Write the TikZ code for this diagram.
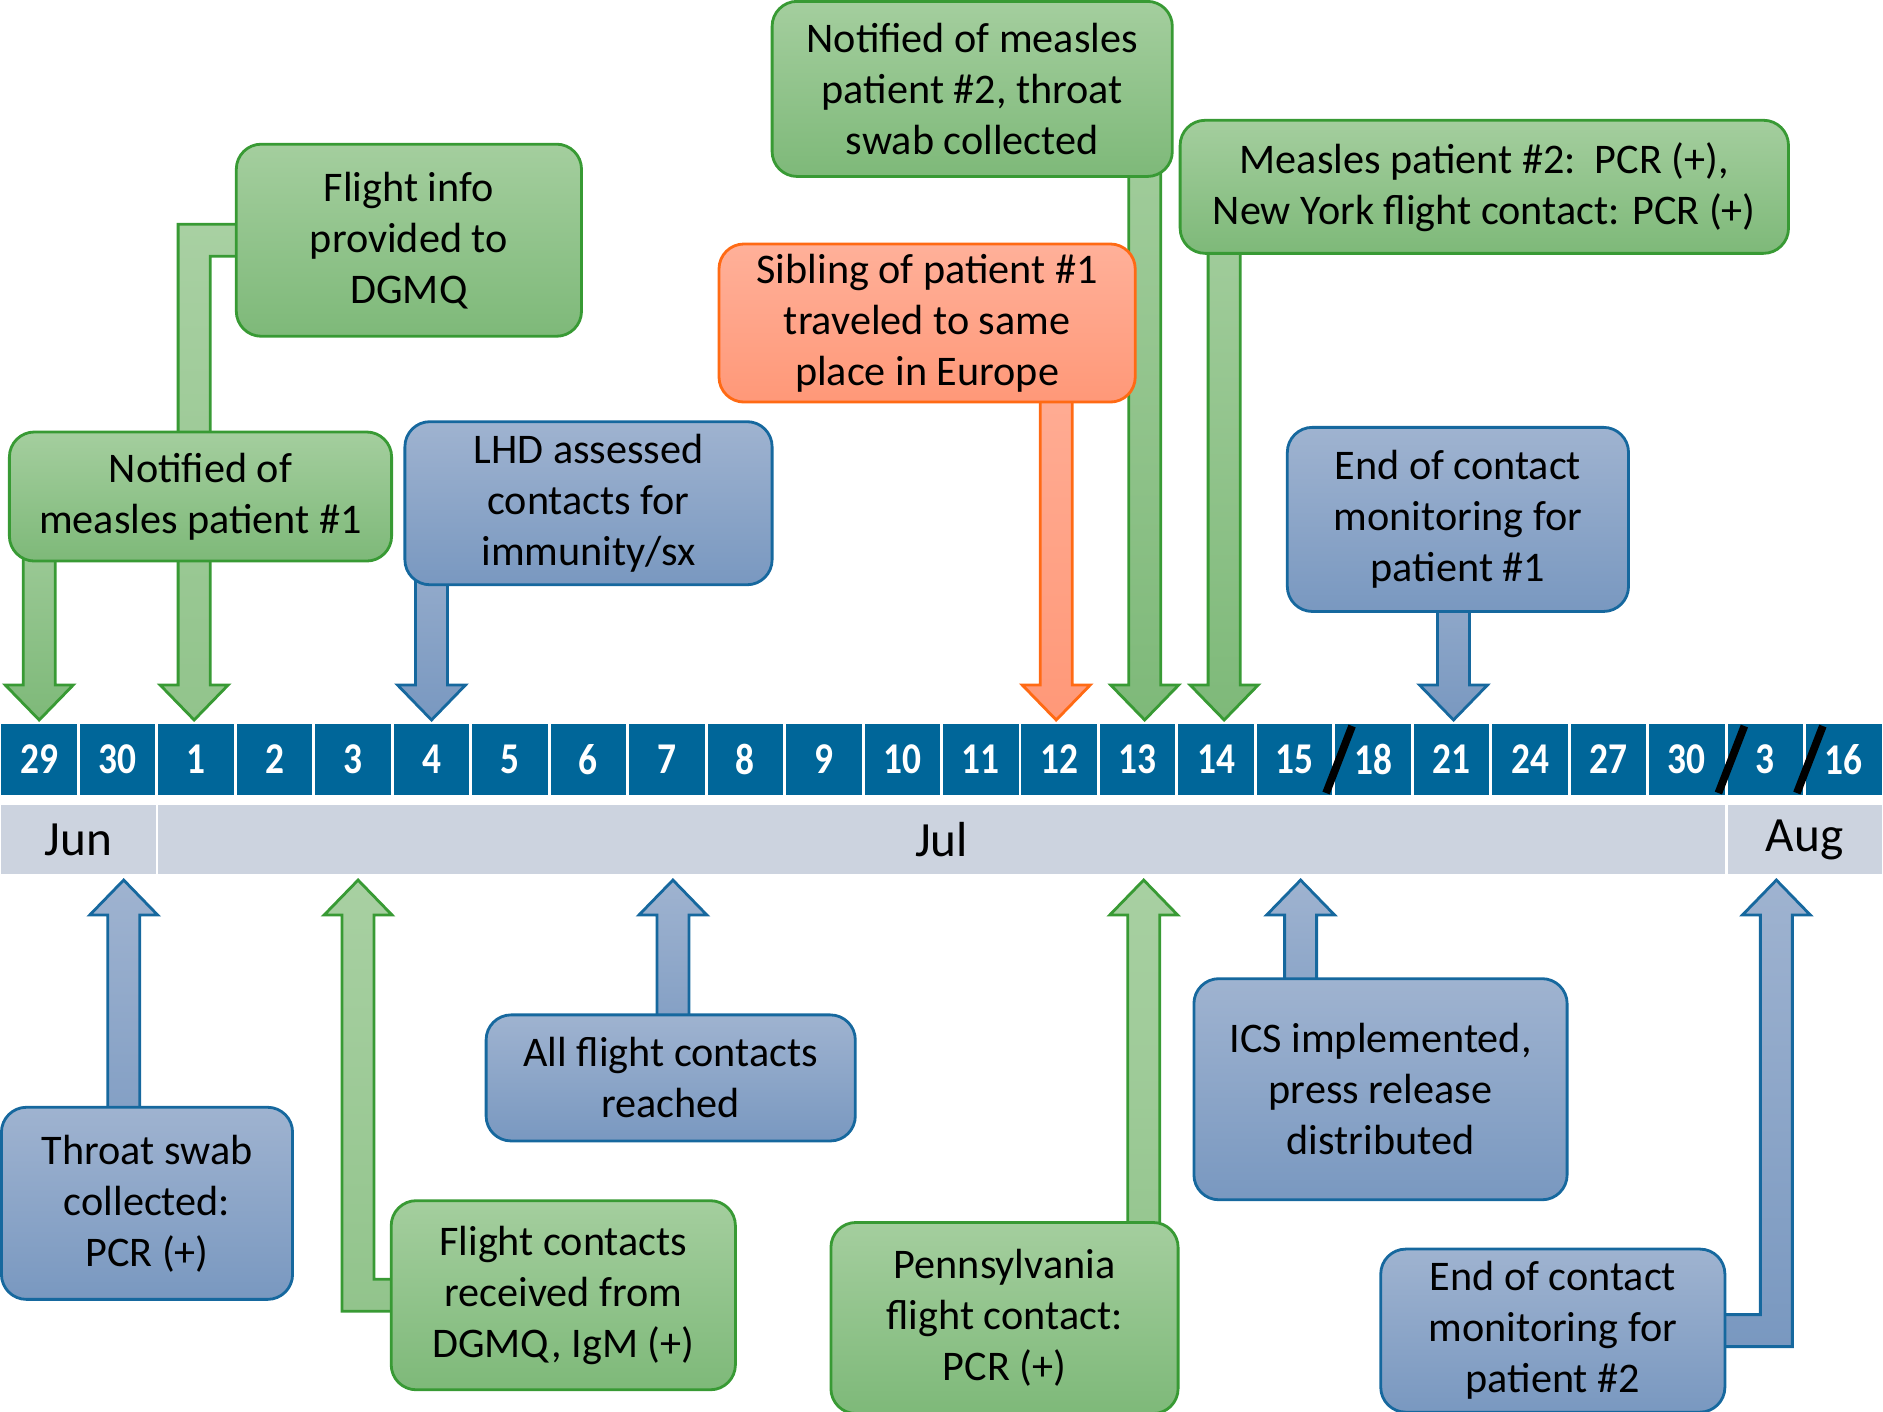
\documentclass[tikz,border=0pt]{standalone}
\usepackage{fontspec}
\setmainfont{Carlito}
\usetikzlibrary{calc}
\pgfdeclarelayer{back}
\pgfsetlayers{back,main}

\definecolor{barblue}{RGB}{0,102,153}
\definecolor{bandgray}{RGB}{204,211,223}
\definecolor{grtop}{RGB}{164,206,158}
\definecolor{grbot}{RGB}{126,185,121}
\definecolor{grtopb}{RGB}{168,208,162}
\definecolor{grbotb}{RGB}{146,196,140}
\definecolor{grline}{RGB}{56,154,52}
\definecolor{bltop}{RGB}{159,179,208}
\definecolor{blbot}{RGB}{121,152,192}
\definecolor{blline}{RGB}{22,104,158}
\definecolor{ortop}{RGB}{255,176,153}
\definecolor{orbot}{RGB}{255,152,120}
\definecolor{orline}{RGB}{255,106,20}

\tikzset{
  day/.style={fill=barblue, text=white, inner sep=0pt, minimum width=0.755cm,
    minimum height=0.71cm, outer ysep=0.04cm, font=\bfseries\fontsize{12.5}{13}\selectfont},
  month/.style={fill=bandgray, inner sep=0pt, minimum height=0.69cm, outer ysep=0.06cm,
    font=\fontsize{14}{16}\selectfont},
  evt/.style={rounded corners=0.25cm, line width=0.8pt, align=center, inner sep=0pt,
    font=\fontsize{12}{14.5}\selectfont},
  wh/.style 2 args={minimum width=#1cm, minimum height=#2cm},
  grbox/.style={evt, draw=grline, top color=grtop, bottom color=grbot},
  blbox/.style={evt, draw=blline, top color=bltop, bottom color=blbot},
  orbox/.style={evt, draw=orline, top color=ortop, bottom color=orbot},
  grarr/.style={line width=0.8pt, draw=grline, top color=grtop, bottom color=grbot},
  grarrb/.style={line width=0.8pt, draw=grline, top color=grtopb, bottom color=grbotb},
  blarr/.style={line width=0.8pt, draw=blline, top color=bltop, bottom color=blbot},
  orarr/.style={line width=0.8pt, draw=orline, top color=ortop, bottom color=orbot},
  slash/.style={line width=2.2pt, black}
}

% straight block arrow: tail inside box #2, tip at #3
\newcommand\blkarrow[3][]{%
  \begin{pgfonlayer}{back}
  \draw[#1] let \p1=(#3), \p2=(#2.center), \n1={(\y2>\y1)*2-1} in
    (\x1-0.16cm,\y2) -- (\x1-0.16cm,{\y1+\n1*0.35cm}) -- (\x1-0.34cm,{\y1+\n1*0.35cm})
    -- (\x1,\y1) -- (\x1+0.34cm,{\y1+\n1*0.35cm}) -- (\x1+0.16cm,{\y1+\n1*0.35cm})
    -- (\x1+0.16cm,\y2) -- cycle;
  \end{pgfonlayer}}

% bent block arrow: leaves box #2 sideways, turns to tip at #3
\newcommand\elbarrow[3][]{%
  \begin{pgfonlayer}{back}
  \draw[#1] let \p1=(#3), \p2=(#2.center), \n1={(\y2>\y1)*2-1}, \n2={(\x2>\x1)*2-1} in
    (\x2,{\y2+\n1*0.16cm}) -- ({\x1-\n2*0.16cm},{\y2+\n1*0.16cm})
    -- ({\x1-\n2*0.16cm},{\y1+\n1*0.35cm}) -- ({\x1-\n2*0.34cm},{\y1+\n1*0.35cm})
    -- (\x1,\y1) -- ({\x1+\n2*0.34cm},{\y1+\n1*0.35cm}) -- ({\x1+\n2*0.16cm},{\y1+\n1*0.35cm})
    -- ({\x1+\n2*0.16cm},{\y2-\n1*0.16cm}) -- (\x2,{\y2-\n1*0.16cm}) -- cycle;
  \end{pgfonlayer}}

\begin{document}
\begin{tikzpicture}[x=0.01cm, y=-0.01cm]
\useasboundingbox (0,0) rectangle (1883,1411);

\foreach \lab [count=\i from 0] in {29,30,1,2,3,4,5,6,7,8,9,10,11,12,13,14,15,18,21,24,27,30,3,16}
  \node[day] (d\i) at ({(\i+0.5)*78.46},759.5) {\scalebox{0.85}[1]{\lab}};

\node[month, minimum width=1.54cm] (jun) at (78.46,839.5) {Jun};
\node[month, minimum width=15.66cm] (jul) at (941.5,839.5) {Jul};
\node[month, minimum width=1.54cm] (aug) at (1804.6,839.5) {Aug};

\draw[slash] ([shift={(-7,-6)}]d16.south east) -- ([shift={(19,6)}]d16.north east);
\draw[slash] ([shift={(-7,-6)}]d21.south east) -- ([shift={(19,6)}]d21.north east);
\draw[slash] ([shift={(-7,-6)}]d22.south east) -- ([shift={(19,6)}]d22.north east);

\node[grbox, wh={3.82}{1.29}] (notifA) at (200.5,496.5) {Notified of\\measles patient \#1};
\node[grbox, wh={3.45}{1.92}] (flight) at (408.9,240.2) {Flight info\\provided to\\DGMQ};
\node[blbox, wh={3.67}{1.63}] (lhd) at (588.5,503.2) {LHD assessed\\contacts for\\immunity/sx};
\node[grbox, wh={4.00}{1.75}] (notifB) at (972.2,88.9) {Notified of measles\\patient \#2, throat\\swab collected};
\node[orbox, wh={4.16}{1.58}] (sibling) at (927.1,323) {Sibling of patient \#1\\traveled to same\\place in Europe};
\node[grbox, wh={6.08}{1.33}] (pcrB) at (1484.3,186.8) {Measles patient \#2:\ \ PCR (+),\\New York flight contact: PCR (+)};
\node[blbox, wh={3.41}{1.84}] (endA) at (1457.9,519.4) {End of contact\\monitoring for\\patient \#1};

\node[blbox, wh={2.91}{1.92}] (swab) at (147,1203.3) {Throat swab\\collected:\\PCR (+)};
\node[grbox, wh={3.44}{1.89}] (received) at (563.3,1295.2) {Flight contacts\\received from\\DGMQ, IgM (+)};
\node[blbox, wh={3.69}{1.26}] (reached) at (670.7,1077.9) {All flight contacts\\reached};
\node[grbox, wh={3.47}{1.91}] (penn) at (1004.5,1318) {Pennsylvania\\flight contact:\\PCR (+)};
\node[blbox, wh={3.73}{2.21}] (ics) at (1380.5,1089.2) {ICS implemented,\\press release\\distributed};
\node[blbox, wh={3.44}{1.63}] (endB) at (1552.8,1330.6) {End of contact\\monitoring for\\patient \#2};

\blkarrow[grarr]{notifA}{d0.north}
\elbarrow[grarrb]{flight}{[xshift=-0.02cm]d2.north}
\blkarrow[blarr]{lhd}{d5.north}
\blkarrow[orarr]{sibling}{[xshift=-0.03cm]d13.north}
\blkarrow[grarr]{notifB}{[xshift=0.07cm]d14.north}
\blkarrow[grarr]{pcrB}{[xshift=0.08cm]d15.north}
\blkarrow[blarr]{endA}{[xshift=0.02cm]d18.north}

\blkarrow[blarr]{swab}{$(d1 |- jun.south)+(6,0)$}
\elbarrow[grarrb]{received}{$(d4 |- jul.south)+(5,0)$}
\blkarrow[blarr]{reached}{$(d8 |- jul.south)+(6,0)$}
\blkarrow[grarrb]{penn}{$(d14 |- jul.south)+(6,0)$}
\blkarrow[blarr]{ics}{$(d16 |- jul.south)+(6,0)$}
\elbarrow[blarr]{endB}{$(d22 |- aug.south)+(11,0)$}
\end{tikzpicture}
\end{document}
